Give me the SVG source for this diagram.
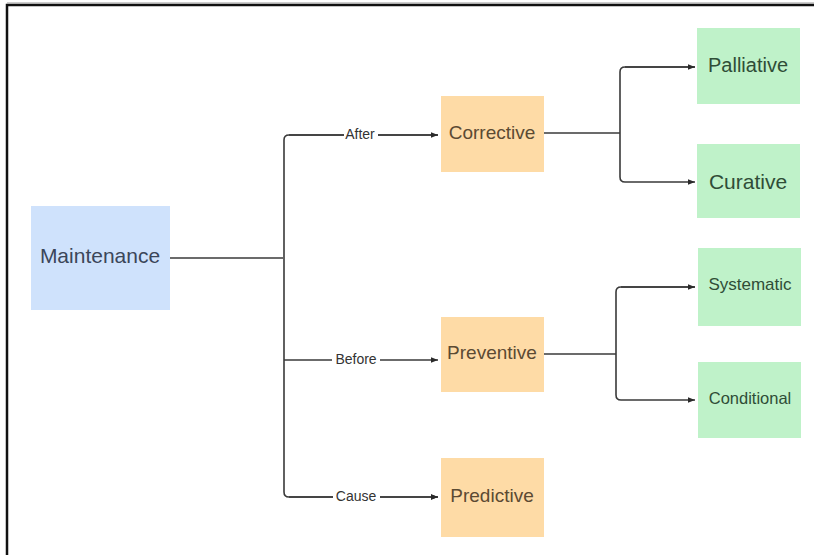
<svg xmlns="http://www.w3.org/2000/svg" width="814" height="555" viewBox="0 0 814 555">
  <style>
    .frame { fill: none; stroke: #111; stroke-width: 2.5; }
    .blue { fill: #cfe2fc; }
    .orange { fill: #fedba6; }
    .green { fill: #bff2c9; }
    .t { font-family: "Liberation Sans", Arial, sans-serif; text-anchor: middle; dominant-baseline: central; }
    .tb { fill: #3b4659; font-size: 21px; }
    .to { fill: #5b4a33; font-size: 19px; }
    .tg { fill: #2f4d37; }
    .wire { fill: none; stroke: #3a3a3a; stroke-width: 1.6; stroke-linejoin: round; }
    .lbl { font-family: "Liberation Sans", Arial, sans-serif; font-size: 14px; fill: #333; text-anchor: middle; dominant-baseline: central; }
    .lblbg { fill: #ffffff; }
  </style>
  <defs>
    <marker id="arrow" viewBox="0 0 10 10" refX="10" refY="5" markerWidth="7" markerHeight="7" markerUnits="userSpaceOnUse" orient="auto">
      <path d="M0,1 L10,5 L0,9 Z" fill="#2a2a2a"/>
    </marker>
  </defs>

  <rect width="814" height="555" fill="#ffffff"/>
  <path class="frame" d="M7,555 V5 H814"/>
  <line x1="7" y1="3" x2="814" y2="3" stroke="#999" stroke-width="1"/>

  <!-- connectors -->
  <g id="connectors">
    <path class="wire" d="M170,258 H283"/>
    <path class="wire" d="M438,135 H289 Q284,135 284,140 V492 Q284,497 289,497 H438" marker-end="url(#arrow)"/>
    <path class="wire" d="M289,135 H438" marker-end="url(#arrow)"/>
    <path class="wire" d="M284,360 H438" marker-end="url(#arrow)"/>
    <path class="wire" d="M289,497 H438" marker-end="url(#arrow)"/>

    <path class="wire" d="M544,133 H620"/>
    <path class="wire" d="M695,67 H625 Q620,67 620,72 V177 Q620,182 625,182 H695" marker-end="url(#arrow)"/>
    <path class="wire" d="M625,67 H695" marker-end="url(#arrow)"/>

    <path class="wire" d="M544,354 H616"/>
    <path class="wire" d="M695,287 H621 Q616,287 616,292 V395 Q616,400 621,400 H695" marker-end="url(#arrow)"/>
    <path class="wire" d="M621,287 H695" marker-end="url(#arrow)"/>

    <rect class="lblbg" x="344" y="127" width="34" height="14"/>
    <text class="lbl" x="360" y="134">After</text>
    <rect class="lblbg" x="332" y="352" width="48" height="15"/>
    <text class="lbl" x="356" y="359">Before</text>
    <rect class="lblbg" x="333" y="489" width="47" height="15"/>
    <text class="lbl" x="356" y="496">Cause</text>
  </g>

  <g id="maintenance">
    <rect class="blue" x="31" y="206" width="139" height="104"/>
    <text class="t tb" x="100" y="255">Maintenance</text>
  </g>

  <g id="corrective">
    <rect class="orange" x="441" y="96" width="103" height="76"/>
    <text class="t to" x="492" y="132">Corrective</text>
  </g>
  <g id="preventive">
    <rect class="orange" x="441" y="317" width="103" height="75"/>
    <text class="t to" x="492" y="352">Preventive</text>
  </g>
  <g id="predictive">
    <rect class="orange" x="441" y="458" width="103" height="79"/>
    <text class="t to" x="492" y="495">Predictive</text>
  </g>

  <g id="palliative">
    <rect class="green" x="697" y="28" width="103" height="76"/>
    <text class="t tg" x="748" y="65" font-size="20">Palliative</text>
  </g>
  <g id="curative">
    <rect class="green" x="697" y="144" width="103" height="74"/>
    <text class="t tg" x="748" y="181" font-size="21">Curative</text>
  </g>
  <g id="systematic">
    <rect class="green" x="698" y="248" width="103" height="78"/>
    <text class="t tg" x="750" y="284" font-size="17">Systematic</text>
  </g>
  <g id="conditional">
    <rect class="green" x="698" y="362" width="103" height="76"/>
    <text class="t tg" x="750" y="398" font-size="16.5">Conditional</text>
  </g>
</svg>
